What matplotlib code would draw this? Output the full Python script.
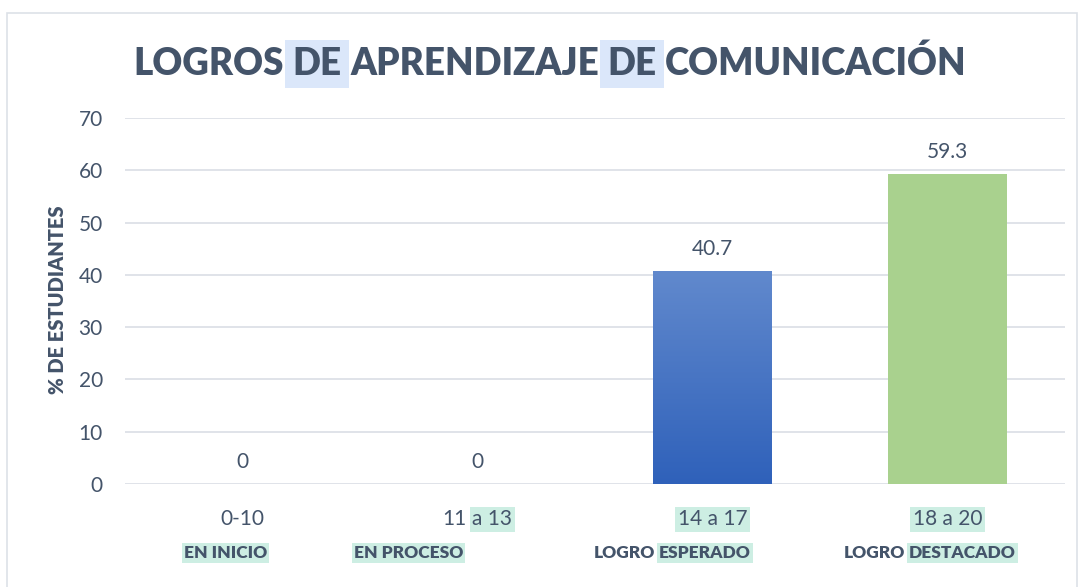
import numpy as np
import matplotlib
matplotlib.use("Agg")
import matplotlib.pyplot as plt
from matplotlib.colors import LinearSegmentedColormap
from matplotlib.patches import Rectangle
from matplotlib.transforms import IdentityTransform

# datos
rangos = ["0-10", "11 a 13", "14 a 17", "18 a 20"]
niveles = ["EN INICIO", "EN PROCESO", "LOGRO ESPERADO", "LOGRO DESTACADO"]
porcentajes = [0, 0, 40.7, 59.3]

# desde que caracter va resaltado cada etiqueta (None = sin resaltar)
rango_resalte = [None, 3, 0, 0]
nivel_resalte = [0, 0, 6, 6]

titulo = [("LOGROS ", False), ("DE", True), (" APRENDIZAJE ", False),
          ("DE", True), (" COMUNICACIÓN", False)]

plt.rcParams['font.family'] = ['Lato', 'DejaVu Sans']
texto = '#44546a'
rejilla = '#dde1e7'
verde = '#a9d18e'
azul_arriba = '#6189cd'
azul_abajo = '#2f61ba'
fondo_titulo = '#dbe7fa'
fondo_etiqueta = '#cdeee3'

fig = plt.figure(figsize=(10.8, 5.87), dpi=100)
ax = fig.add_axes([125 / 1080, 103 / 587, 940 / 1080, 366 / 587])

x = np.arange(len(rangos))
barras = ax.bar(x, porcentajes, width=0.506, color=['#4472c4', '#4472c4', azul_abajo, verde], zorder=2)

# degradado de la barra azul
b = barras[2]
grad = np.linspace(0, 1, 256).reshape(-1, 1)
cmap = LinearSegmentedColormap.from_list("az", [azul_abajo, azul_arriba])
im = ax.imshow(grad, extent=[b.get_x(), b.get_x() + b.get_width(), 0, b.get_height()],
               origin='lower', aspect='auto', cmap=cmap, zorder=2.1)
im.set_clip_path(b)

for i, v in enumerate(porcentajes):
    ax.annotate(f"{v:g}", (i, v), xytext=(0, 11.5), textcoords='offset points',
                ha='center', va='baseline', fontsize=15, color=texto)

ax.set_xlim(-0.5, 3.5)
ax.set_ylim(0, 70)
ax.set_yticks(range(0, 80, 10))
ax.set_xticks([])
ax.grid(axis='y', color=rejilla, lw=1.3, zorder=0)
for s in ax.spines.values():
    s.set_visible(False)
ax.tick_params(axis='y', length=0, pad=16, labelsize=15, labelcolor=texto)

fig.text(58 / 1080, 1 - 300 / 587, "% DE ESTUDIANTES", rotation=90, fontweight='heavy',
         fontsize=14.5, color=texto, ha='center', va='center')

fig.add_artist(Rectangle((7 / 1080, -0.05), 1070 / 1080, 1.05 - 13 / 587, fill=False,
                         ec=rejilla, lw=1.2, transform=fig.transFigure))

renderer = fig.canvas.get_renderer()


def ancho(s, **kw):
    t = fig.text(0, 0, s + "|", transform=IdentityTransform(), **kw)
    w = t.get_window_extent(renderer).width
    t.remove()
    t = fig.text(0, 0, "|", transform=IdentityTransform(), **kw)
    w -= t.get_window_extent(renderer).width
    t.remove()
    return w


def texto_partes(cx, y, partes, fondo, pad=0.12, **kw):
    total = ancho("".join(p for p, _ in partes), **kw)
    izq = cx - total / 2
    previo = ""
    for p, marcado in partes:
        lead = len(p) - len(p.lstrip(" "))
        px = izq + (ancho(previo + p[:lead], **kw) if previo + p[:lead] else 0)
        caja = dict(boxstyle=f'square,pad={pad}', fc=fondo, ec='none') if marcado else None
        fig.text(px, y, p.strip(), transform=IdentityTransform(), ha='left',
                 va='baseline', bbox=caja, color=texto, **kw)
        previo += p


def partir(s, k):
    if k is None:
        return [(s, False)]
    if k == 0:
        return [(s, True)]
    return [(s[:k], False), (s[k:], True)]


texto_partes(550, 512, titulo, fondo_titulo, pad=0.2, fontsize=26.5, fontweight='heavy')

desplaz = [-17, -69, -40, -18]
for i in range(len(rangos)):
    cx = ax.transData.transform((i, 0))[0]
    texto_partes(cx, 62, partir(rangos[i], rango_resalte[i]), fondo_etiqueta, fontsize=15)
    texto_partes(cx + desplaz[i], 29, partir(niveles[i], nivel_resalte[i]), fondo_etiqueta,
                 fontsize=12.5, fontweight='heavy')

fig.savefig("out.png", dpi=100)
